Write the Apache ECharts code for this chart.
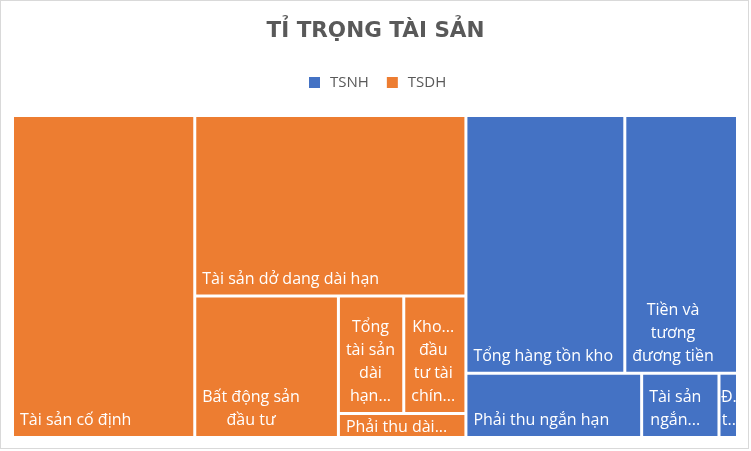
<!DOCTYPE html>
<html>
<head>
<meta charset="utf-8">
<script src="https://cdn.jsdelivr.net/npm/echarts@6/dist/echarts.min.js"></script>
<style>
  html, body { margin: 0; padding: 0; background: #fff; }
  #frame { position: absolute; left: 0; top: 0; width: 747px; height: 447px; border: 1px solid #D9D9D9; }
  #chart { position: absolute; left: 0; top: 0; width: 751px; height: 451px; }
</style>
</head>
<body>
<div id="frame"></div>
<div id="chart"></div>
<script>
// --- dữ liệu ---
const GROUPS = ['TSDH', 'TSNH'];
const GROUP_COLORS = { TSNH: '#4472C4', TSDH: '#ED7D31' };

// tài sản dài hạn (% tổng tài sản)
const tsdhNames  = ['Tài sản cố định', 'Tài sản dở dang dài hạn', 'Bất động sản đầu tư',
                    'Tổng tài sản dài hạn khác', 'Khoản đầu tư tài chính dài hạn', 'Phải thu dài hạn'];
const tsdhLabels = ['Tài sản cố định', 'Tài sản dở dang dài hạn', 'Bất động sản\nđầu tư',
                    'Tổng\ntài sản\ndài\nhạn...', 'Kho...\nđầu\ntư tài\nchín...', 'Phải thu dài...'];
const tsdhValues = [25.14, 20.96, 8.71, 3.29, 3.13, 1.31];

// tài sản ngắn hạn (% tổng tài sản)
const tsnhNames  = ['Tổng hàng tồn kho', 'Tiền và tương đương tiền', 'Phải thu ngắn hạn',
                    'Tài sản ngắn hạn khác', 'Đầu tư tài chính ngắn hạn'];
const tsnhLabels = ['Tổng hàng tồn kho', 'Tiền và\ntương\nđương tiền', 'Phải thu ngắn hạn',
                    'Tài sản\nngắn...', 'Đ..\nt...'];
const tsnhValues = [17.54, 12.44, 4.84, 2.13, 0.51];

// --- nhãn: khối chữ canh trái, từng dòng canh giữa trong khối (kiểu Excel) ---
const LABEL_FONT = 16, LABEL_FAMILY = 'Open Sans', PAD = 6, LINE_H = 23;
const ctx = document.createElement('canvas').getContext('2d');
ctx.font = LABEL_FONT + 'px "' + LABEL_FAMILY + '"';
const blockW = s => Math.max(...s.split('\n').map(l => ctx.measureText(l).width));

const labelOf = {};
const leaves = (names, labels, values, color) => names.map((n, i) => {
  labelOf[n] = labels[i];
  const multi = labels[i].indexOf('\n') >= 0;
  // nhãn một dòng dùng lineHeight nhỏ để ô thấp (Phải thu dài hạn) không bị cắt dòng
  return { name: n, value: values[i], itemStyle: { color },
           label: { position: [PAD + blockW(labels[i]) / 2, '100%'],
                    lineHeight: multi ? LINE_H : 16 } };
});

const groupData = {
  TSDH: leaves(tsdhNames, tsdhLabels, tsdhValues, GROUP_COLORS.TSDH),
  TSNH: leaves(tsnhNames, tsnhLabels, tsnhValues, GROUP_COLORS.TSNH),
};

const chart = echarts.init(document.getElementById('chart'), null, { renderer: 'canvas' });
chart.setOption({
  animation: false,
  title: {
    text: 'TỈ TRỌNG TÀI SẢN', left: 'center', top: 18, padding: 0,
    textStyle: { fontFamily: 'DejaVu Sans', fontWeight: 'bold', fontSize: 21.5,
                 color: '#595959', lineHeight: 26 }
  },
  legend: {
    data: ['TSNH', 'TSDH'], left: 309, top: 75, padding: 0,
    icon: 'rect', itemWidth: 11, itemHeight: 11, itemGap: 18, selectedMode: false,
    textStyle: { fontFamily: 'Open Sans', fontSize: 15, color: '#595959', padding: [0, 0, 0, 5] }
  },
  series: [
    {
      type: 'treemap',
      left: 14, top: 117, width: 722, height: 319,
      roam: false, nodeClick: false, breadcrumb: { show: false },
      squareRatio: 1.1317,
      label: {
        show: true, color: '#fff', fontFamily: LABEL_FAMILY, fontSize: LABEL_FONT, lineHeight: LINE_H,
        overflow: 'none', padding: [0, PAD, 0, PAD], align: 'center', verticalAlign: 'bottom',
        formatter: p => labelOf[p.name] || p.name
      },
      // nâng nhãn khỏi đáy ô; ô thấp: chữ nằm giữa theo chiều dọc; ô quá hẹp: chữ sát mép trái
      labelLayout: p => {
        const r = p.rect, l = p.labelRect, o = {};
        const multi = (p.text || '').indexOf('\n') >= 0;
        o.dy = multi ? -4 : -7.5;
        if (r.height < 30) o.dy = (r.y + r.height / 2 + 2) - (l.y + l.height / 2);
        if (l.width - 2 * PAD > r.width) o.dx = r.x + 0.5 - (l.x + PAD);
        return o;
      },
      levels: [
        { itemStyle: { borderWidth: 0, gapWidth: 3, borderColor: '#fff' } },
        { itemStyle: { borderWidth: 0, gapWidth: 3, borderColor: '#fff' } },
        { itemStyle: { borderWidth: 0, gapWidth: 0 } }
      ],
      data: GROUPS.map(g => ({ name: g, itemStyle: { color: GROUP_COLORS[g] }, children: groupData[g] }))
    },
    // chỉ để chú giải hiện màu nhóm
    { type: 'pie', name: 'TSNH', data: [], showEmptyCircle: false, itemStyle: { color: GROUP_COLORS.TSNH } },
    { type: 'pie', name: 'TSDH', data: [], showEmptyCircle: false, itemStyle: { color: GROUP_COLORS.TSDH } }
  ]
});
</script>
</body>
</html>
